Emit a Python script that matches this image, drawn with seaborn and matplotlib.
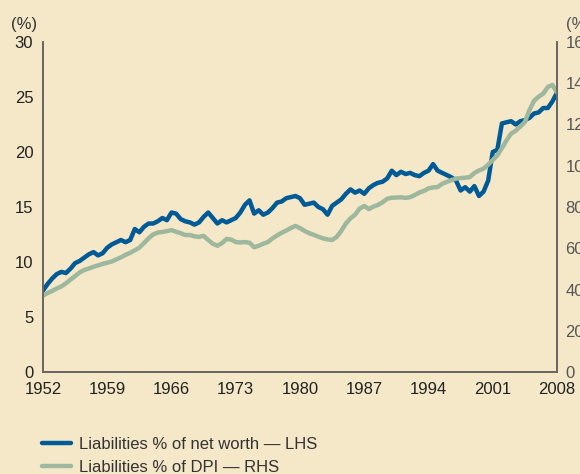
import numpy as np
import pandas as pd
import seaborn as sns
import matplotlib.pyplot as plt

# half-yearly observations, 1952.0 .. 2008.0
years = np.arange(1952, 2008.01, 0.5)

net_worth = [
    7.4, 8.0, 8.5, 8.9, 9.1, 9.0, 9.4, 9.9, 10.1, 10.4,
    10.7, 10.9, 10.6, 10.8, 11.3, 11.6, 11.8, 12.0, 11.8, 12.0,
    13.0, 12.7, 13.2, 13.5, 13.5, 13.7, 14.0, 13.8, 14.5, 14.4,
    13.9, 13.7, 13.6, 13.4, 13.6, 14.1, 14.5, 14.0, 13.5, 13.8,
    13.6, 13.8, 14.0, 14.5, 15.2, 15.6, 14.4, 14.7, 14.3, 14.5,
    14.9, 15.4, 15.5, 15.8, 15.9, 16.0, 15.8, 15.2, 15.3, 15.4,
    15.0, 14.8, 14.3, 15.1, 15.4, 15.7, 16.2, 16.6, 16.3, 16.5,
    16.2, 16.7, 17.0, 17.2, 17.3, 17.6, 18.3, 17.9, 18.2, 18.0,
    18.1, 17.9, 17.8, 18.1, 18.3, 18.9, 18.3, 18.1, 17.9, 17.7,
    17.4, 16.5, 16.8, 16.4, 16.9, 16.0, 16.4, 17.4, 20.0, 20.2,
    22.6, 22.7, 22.8, 22.5, 22.8, 22.9, 23.1, 23.5, 23.6, 24.0,
    24.0, 24.6, 25.4,
]

dpi_share = [
    37.0, 38.3, 39.3, 40.5, 41.5, 43.0, 44.8, 46.5, 48.3, 49.5,
    50.2, 51.0, 51.7, 52.4, 53.0, 53.6, 54.6, 55.6, 56.8, 57.8,
    59.0, 60.3, 62.5, 64.8, 66.7, 67.6, 67.9, 68.3, 68.8, 68.0,
    67.3, 66.4, 66.4, 65.8, 65.5, 66.0, 64.0, 62.2, 61.2, 62.5,
    64.5, 64.2, 63.0, 62.8, 63.0, 62.7, 60.5, 61.2, 62.2, 63.0,
    64.8, 66.2, 67.5, 68.6, 69.8, 70.8, 69.8, 68.4, 67.3, 66.5,
    65.6, 64.8, 64.3, 64.0, 65.5, 68.5, 72.0, 74.5, 76.3, 79.2,
    80.5, 79.0, 80.2, 81.0, 82.3, 84.0, 84.5, 84.6, 84.7, 84.4,
    84.8, 85.8, 87.0, 87.8, 89.0, 89.5, 89.7, 91.3, 92.2, 93.0,
    93.8, 94.0, 94.2, 94.5, 96.5, 97.7, 98.6, 100.5, 102.8, 105.0,
    108.6, 112.3, 115.6, 117.0, 119.0, 121.2, 127.0, 131.5, 133.5, 135.0,
    138.2, 139.2, 135.5,
]

x_ticks = [1952, 1959, 1966, 1973, 1980, 1987, 1994, 2001, 2008]
left_ticks = [0, 5, 10, 15, 20, 25, 30]
right_ticks = [0, 20, 40, 60, 80, 100, 120, 140, 160]

df = pd.DataFrame({"year": years, "net_worth": net_worth, "dpi": dpi_share})

bg = "#F5E8C8"
blue = "#005A96"
green = "#9DB89D"

sns.set_theme(style="white")
plt.rcParams["font.family"] = ["Liberation Sans", "DejaVu Sans"]

fig = plt.figure(figsize=(5.8, 4.74), dpi=100, facecolor=bg)
ax = fig.add_axes([43 / 580, 1 - 372 / 474, 514 / 580, 330 / 474])
ax.set_facecolor(bg)
ax2 = ax.twinx()

sns.lineplot(data=df, x="year", y="net_worth", ax=ax, color=blue, linewidth=3.2,
             label="Liabilities % of net worth \u2014 LHS", legend=False)
sns.lineplot(data=df, x="year", y="dpi", ax=ax2, color=green, linewidth=3.2,
             label="Liabilities % of DPI \u2014 RHS", legend=False)

ax.set_xlim(1952, 2008)
ax.set_ylim(0, 30)
ax2.set_ylim(0, 160)
ax.set_xticks(x_ticks)
ax.set_yticks(left_ticks)
ax2.set_yticks(right_ticks)
ax.set_xlabel("")
ax.set_ylabel("")
ax2.set_ylabel("")

for a in (ax, ax2):
    a.spines["top"].set_visible(False)
    for s in ("left", "bottom", "right"):
        a.spines[s].set_color("#6b6660")
        a.spines[s].set_linewidth(1.3)

ax.tick_params(axis="both", length=0, labelsize=12, colors="#222222")
ax.tick_params(axis="y", pad=7)
ax.tick_params(axis="x", pad=7)
ax2.tick_params(axis="y", length=0, labelsize=12, colors="#555555", pad=6)

fig.text(24 / 580, 1 - 24 / 474, "(%)", fontsize=12, color="#333333",
         ha="center", va="center")
fig.text(566 / 580, 1 - 24 / 474, "(%)", fontsize=12, color="#555555",
         ha="left", va="center")

handles = [ax.get_lines()[0], ax2.get_lines()[0]]
labels = [h.get_label() for h in handles]
fig.legend(handles, labels, loc="upper left", bbox_to_anchor=(42 / 580, 1 - 437 / 474),
           frameon=False, fontsize=12, handlelength=1.75, handletextpad=0.45,
           labelspacing=0.48, borderpad=0, borderaxespad=0, labelcolor="#333333")

fig.savefig("out.png", dpi=100, facecolor=bg)
